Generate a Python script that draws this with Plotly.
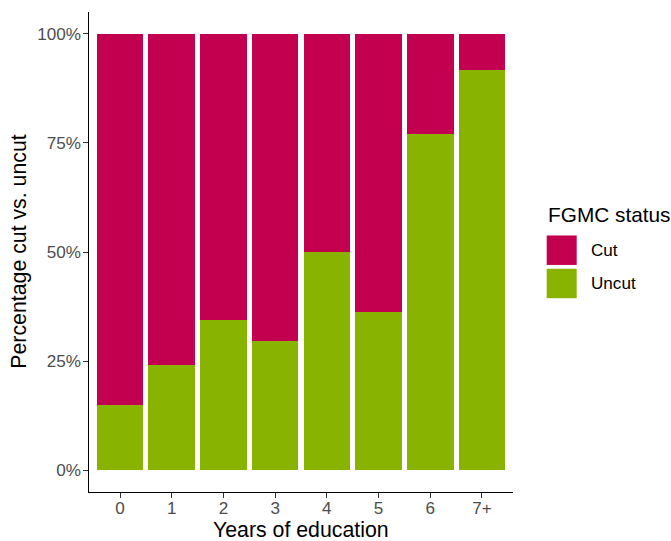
import plotly.graph_objects as go

categories = ["0", "1", "2", "3", "4", "5", "6", "7+"]
uncut = [0.150, 0.241, 0.344, 0.296, 0.500, 0.363, 0.770, 0.918]
cut = [round(1 - u, 3) for u in uncut]
series_names = ["Cut", "Uncut"]
colors = {"Cut": "#C2004F", "Uncut": "#88B300"}
y_ticks = [0, 0.25, 0.5, 0.75, 1.0]
y_ticklabels = ["0%", "25%", "50%", "75%", "100%"]
x_title = "Years of education"
y_title = "Percentage cut vs. uncut"
legend_title = "FGMC status"

FONT = "Liberation Sans, Arial, sans-serif"

fig = go.Figure()
fig.add_trace(go.Bar(x=categories, y=uncut, name="Uncut", marker=dict(color=colors["Uncut"], line=dict(width=0)), showlegend=False))
fig.add_trace(go.Bar(x=categories, y=cut, name="Cut", marker=dict(color=colors["Cut"], line=dict(width=0)), showlegend=False))

W, H = 671, 541
px_left, px_right, px_top, px_bottom = 89.3, 513.3, 12.1, 492.4
L, T = px_left, px_top
R, B = W - px_right, H - px_bottom
pw, ph = px_right - px_left, px_bottom - px_top

def px_x(x):
    return (x - px_left) / pw

def px_y(y):
    return (px_bottom - y) / ph

fig.update_layout(
    width=W, height=H,
    margin=dict(l=L, r=R, t=T, b=B, autoexpand=False),
    barmode="stack", bargap=0.1,
    plot_bgcolor="white", paper_bgcolor="white",
    font=dict(family=FONT, size=17, color="#000000"),
    xaxis=dict(
        type="category", range=[-0.6, 7.6],
        showline=True, linecolor="#000000", linewidth=1.3,
        ticks="outside", ticklen=4.5, tickcolor="#333333", tickwidth=1.1,
        ticklabelstandoff=-4,
        tickfont=dict(size=17.1, color="#4D4D4D", family=FONT),
        showgrid=False, zeroline=False,
    ),
    yaxis=dict(
        range=[-0.05, 1.05],
        tickvals=y_ticks, ticktext=y_ticklabels,
        showline=True, linecolor="#000000", linewidth=1.3,
        ticks="outside", ticklen=4.5, tickcolor="#333333", tickwidth=1.1,
        ticklabelstandoff=-1,
        tickfont=dict(size=17.1, color="#4D4D4D", family=FONT),
        showgrid=False, zeroline=False,
    ),
    showlegend=False,
)

annotations = [
    dict(text=x_title, xref="paper", yref="paper", x=0.5, y=px_y(530.5),
         xanchor="center", yanchor="middle", showarrow=False,
         font=dict(size=21.3, color="#000000", family=FONT)),
    dict(text=y_title, xref="paper", yref="paper", x=px_x(19), y=0.5, textangle=-90,
         xanchor="center", yanchor="middle", showarrow=False,
         font=dict(size=21.3, color="#000000", family=FONT)),
]

# Legend drawn in ggplot style (large square keys)
key_tops = [235.7, 269.0]
key_h = 29.5
shapes = []
annotations.append(dict(text=legend_title, xref="paper", yref="paper", x=px_x(546), y=px_y(215),
                        xanchor="left", yanchor="middle", showarrow=False,
                        font=dict(size=20.8, color="#000000", family=FONT)))
for name, top in zip(series_names, key_tops):
    shapes.append(dict(type="rect", xref="paper", yref="paper",
                       x0=px_x(547), x1=px_x(577), y0=px_y(top + key_h), y1=px_y(top),
                       fillcolor=colors[name], line=dict(width=0)))
    annotations.append(dict(text=name, xref="paper", yref="paper", x=px_x(589), y=px_y(top + key_h / 2),
                            xanchor="left", yanchor="middle", showarrow=False,
                            font=dict(size=17.1, color="#000000", family=FONT)))
fig.update_layout(shapes=shapes, annotations=annotations)

fig.write_html("out.html", config={"displayModeBar": False},
               post_script="document.body.style.margin='0';document.body.style.overflow='hidden';")
